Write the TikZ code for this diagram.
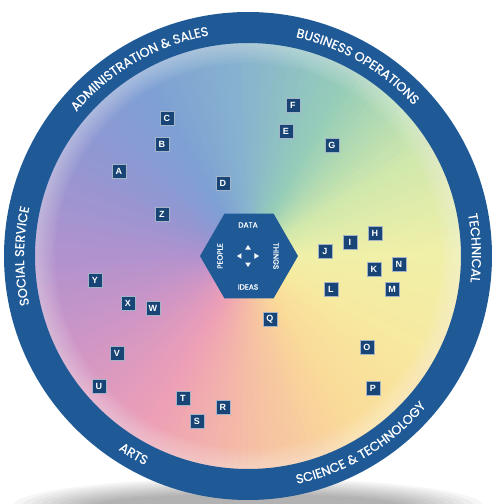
\documentclass[tikz,border=0pt]{standalone}
\usepackage{fontspec}
\setmainfont{Poppins}
\newfontfamily\boxfont{Liberation Sans}
\newfontfamily\ringfam{Poppins}[FakeBold=0.7]
\usetikzlibrary{decorations.text}
\definecolor{ringblue}{RGB}{31,90,150}
\definecolor{boxblue}{RGB}{24,68,118}
\definecolor{wh0}{RGB}{240,240,168}
\definecolor{wh30}{RGB}{208,232,172}
\definecolor{wh60}{RGB}{150,205,184}
\definecolor{wh90}{RGB}{136,180,206}
\definecolor{wh120}{RGB}{126,160,212}
\definecolor{wh150}{RGB}{148,150,210}
\definecolor{wh180}{RGB}{178,146,206}
\definecolor{wh210}{RGB}{210,150,196}
\definecolor{wh240}{RGB}{238,160,182}
\definecolor{wh270}{RGB}{245,190,165}
\definecolor{wh300}{RGB}{250,218,152}
\definecolor{wh330}{RGB}{247,233,160}
\newcommand\ringfont{\ringfam\fontsize{12.8}{12.8}\selectfont\color{white}}
\begin{document}
\begin{tikzpicture}[x=1pt,y=1pt,
  letterbox/.style={fill=boxblue,draw=white!60!boxblue,line width=.5pt,
    minimum size=14pt,inner sep=0pt,text=white,font=\boxfont\bfseries\fontsize{9}{9}\selectfont},
  hexlabel/.style={text=white,inner sep=0pt,font=\ringfam\fontsize{7.5}{7.5}\selectfont}]
  \useasboundingbox (-248,-248) rectangle (247,256);
  % shadow
  \foreach \i in {0,...,9}
    \fill[black,opacity=.035] (0,-250) ellipse[x radius={235pt-\i*9pt},y radius={28pt-\i*1.8pt}];
  % wheel
  \foreach \a in {0,2,...,358}{
    \pgfmathtruncatemacro\k{floor(\a/30)*30}
    \pgfmathtruncatemacro\kn{mod(\k+30,360)}
    \pgfmathtruncatemacro\p{100-(\a-\k)*100/30}
    \colorlet{wedgecol}{wh\k!\p!wh\kn}
    \fill[wedgecol] (0,0) -- (\a:214) arc[start angle=\a,end angle=\a+2.6,radius=214pt] -- cycle;
  }
  \foreach \w in {4,8,...,40}
    \draw[white,opacity=.04,line width=\w pt] (0,0) circle[radius=213pt];
  \fill[ringblue,even odd rule] (0,0) circle[radius=244pt] circle[radius=213pt];
  % ring labels
  \path[decorate,decoration={text along path,text align=center,
    text={|\ringfont|ADMINISTRATION {\&} SALES}}]
    (150:224) arc[start angle=150,end angle=90,radius=224pt];
  \path[decorate,decoration={text along path,text align=center,
    text={|\ringfont|BUSINESS OPERATIONS}}]
    (90:224) arc[start angle=90,end angle=30,radius=224pt];
  \path[decorate,decoration={text along path,text align=center,
    text={|\ringfont|TECHNICAL}}]
    (32:224) arc[start angle=32,end angle=-28,radius=224pt];
  \path[decorate,decoration={text along path,text align=center,
    text={|\ringfont|SCIENCE {\&} TECHNOLOGY}}]
    (-89:233) arc[start angle=-89,end angle=-29,radius=233pt];
  \path[decorate,decoration={text along path,text align=center,
    text={|\ringfont|ARTS}}]
    (-150:233) arc[start angle=-150,end angle=-90,radius=233pt];
  \path[decorate,decoration={text along path,text align=center,
    text={|\ringfont|SOCIAL SERVICE}}]
    (210:224) arc[start angle=210,end angle=150,radius=224pt];
  % hexagon
  \fill[ringblue,shift={(1,0)}] (0:49) -- (60:49) -- (120:49) -- (180:49)
    -- (240:49) -- (300:49) -- cycle;
  \path (0,31) node[hexlabel] (data) {DATA};
  \path (0,-31) node[hexlabel] (ideas) {IDEAS};
  \path (-28,0) node[hexlabel,rotate=90] (people) {PEOPLE};
  \path (28,0) node[hexlabel,rotate=-90] (things) {THINGS};
  \fill[white] (0,11) -- (-2.8,6.5) -- (2.8,6.5) -- cycle;
  \fill[white] (0,-11) -- (-2.8,-6.5) -- (2.8,-6.5) -- cycle;
  \fill[white] (-11,0) -- (-6.5,2.8) -- (-6.5,-2.8) -- cycle;
  \fill[white] (11,0) -- (6.5,2.8) -- (6.5,-2.8) -- cycle;
  % letters
  \path (-81,138) node[letterbox] (bC) {C};
  \path (-86,112) node[letterbox] (bB) {B};
  \path (-129,85) node[letterbox] (bA) {A};
  \path (-25,73) node[letterbox] (bD) {D};
  \path (-86,42) node[letterbox] (bZ) {Z};
  \path (45,151) node[letterbox] (bF) {F};
  \path (38,125) node[letterbox] (bE) {E};
  \path (84,111) node[letterbox] (bG) {G};
  \path (127,23) node[letterbox] (bH) {H};
  \path (102,14) node[letterbox] (bI) {I};
  \path (77,5) node[letterbox] (bJ) {J};
  \path (126,-13) node[letterbox] (bK) {K};
  \path (151,-8) node[letterbox] (bN) {N};
  \path (83,-33) node[letterbox] (bL) {L};
  \path (144,-33) node[letterbox] (bM) {M};
  \path (22,-63) node[letterbox] (bQ) {Q};
  \path (119,-91) node[letterbox] (bO) {O};
  \path (125,-132) node[letterbox] (bP) {P};
  \path (-153,-24) node[letterbox] (bY) {Y};
  \path (-120,-47) node[letterbox] (bX) {X};
  \path (-95,-52) node[letterbox] (bW) {W};
  \path (-131,-97) node[letterbox] (bV) {V};
  \path (-149,-130) node[letterbox] (bU) {U};
  \path (-65,-142) node[letterbox] (bT) {T};
  \path (-51,-165) node[letterbox] (bS) {S};
  \path (-25,-151) node[letterbox] (bR) {R};
\end{tikzpicture}
\end{document}
